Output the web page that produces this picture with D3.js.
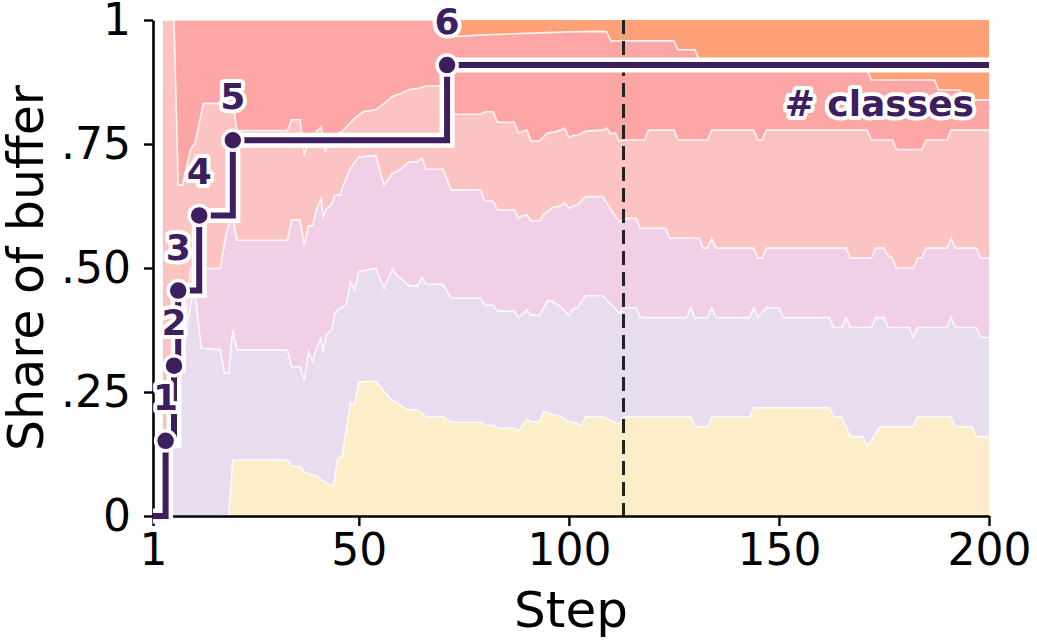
<!DOCTYPE html>
<html>
<head>
<meta charset="utf-8">
<script src="https://cdn.jsdelivr.net/npm/d3@7"></script>
<style>
    body { margin: 0; background: #fff; }
    svg { display: block; font-family: "DejaVu Sans", sans-serif; }
</style>
</head>
<body>
<div id="chart"></div>
<script>
// Axis ticks.
var xTicks = [1, 50, 100, 150, 200];
var yTicks = [0, 0.25, 0.5, 0.75, 1];
var yTickLabels = ['0', '.25', '.50', '.75', '1'];

// Cumulative share of buffer at the top of each class band, as [step, share].
var topYellow = [[3.5,0],[19,0],[20,0.113],[33,0.113],[34,0.1],[36,0.1],[37,0.089],[38,0.085],[40,0.08],[41,0.073],[43,0.063],[44,0.063],[45,0.117],[46,0.119],[48,0.228],[49,0.224],[50,0.27],[54,0.272],[56,0.251],[58,0.232],[59,0.229],[60,0.222],[62,0.214],[64,0.214],[66,0.2],[70,0.2],[72,0.189],[79,0.189],[80,0.183],[82,0.183],[83,0.177],[87,0.177],[88,0.171],[90,0.196],[91,0.19],[93,0.19],[94,0.212],[95,0.207],[96,0.205],[98,0.2],[100,0.19],[102,0.187],[103,0.182],[104,0.2],[108,0.2],[112,0.185],[113,0.2],[129,0.2],[130,0.18],[133,0.18],[134,0.2],[143,0.2],[144,0.218],[162,0.218],[163,0.2],[165,0.2],[166,0.18],[167,0.16],[170,0.16],[171,0.14],[174,0.18],[182,0.18],[183,0.2],[191,0.2],[192,0.18],[196,0.18],[197,0.16],[200,0.16]];
var topLavender = [[3.5,0],[5,0],[6,0.333],[8,0.333],[10.5,0.452],[11,0.452],[12.5,0.338],[17,0.335],[18,0.288],[19,0.288],[20,0.375],[21,0.335],[33,0.335],[34,0.301],[36,0.301],[37,0.274],[38,0.331],[39,0.311],[40,0.34],[41,0.358],[41.5,0.331],[42.3,0.365],[43.5,0.375],[44.3,0.409],[45.5,0.419],[47,0.425],[48,0.472],[49,0.455],[50,0.493],[54,0.499],[56,0.459],[58,0.498],[59,0.485],[60,0.479],[62,0.464],[64,0.464],[65,0.481],[66,0.467],[70,0.467],[72,0.439],[79,0.439],[80,0.425],[82,0.425],[83,0.413],[87,0.413],[88,0.4],[90,0.415],[91,0.405],[93,0.405],[95,0.435],[96,0.433],[98,0.422],[100,0.405],[101,0.418],[102,0.42],[104,0.444],[108,0.444],[112,0.409],[113,0.42],[116,0.42],[117,0.4],[128,0.4],[129,0.42],[130,0.4],[133,0.4],[134,0.42],[135,0.4],[143,0.4],[144,0.42],[145,0.4],[147,0.42],[150,0.42],[151,0.4],[162,0.4],[163,0.38],[165,0.38],[166,0.4],[167,0.38],[172,0.38],[173,0.4],[175,0.4],[176,0.38],[181,0.38],[182,0.36],[183,0.38],[190,0.38],[191,0.4],[192,0.38],[197,0.38],[198,0.36],[200,0.36]];
var topLilac = [[3.5,0],[5,0],[6,0.333],[8,0.333],[10,0.499],[17,0.499],[18.5,0.573],[19.5,0.6],[20,0.6],[21,0.556],[33,0.556],[34,0.597],[36,0.597],[37,0.546],[38,0.585],[39,0.585],[40,0.62],[41,0.64],[41.5,0.604],[42.3,0.62],[43.5,0.627],[44.3,0.647],[45.5,0.647],[46.3,0.667],[48,0.701],[50,0.724],[54,0.727],[56,0.667],[58,0.691],[59,0.694],[60,0.7],[62,0.714],[64,0.714],[65,0.722],[66,0.699],[70,0.699],[72,0.657],[79,0.657],[80,0.635],[82,0.635],[83,0.617],[87,0.617],[88,0.6],[89,0.605],[90,0.607],[91,0.595],[93,0.595],[94,0.608],[95,0.614],[96,0.622],[98,0.625],[99,0.632],[100,0.62],[101,0.625],[102,0.627],[104,0.644],[108,0.644],[112,0.592],[113,0.6],[116,0.6],[117,0.58],[123,0.58],[124,0.56],[131,0.56],[132,0.54],[133,0.54],[134,0.56],[135,0.54],[144,0.54],[145,0.52],[146,0.52],[147,0.54],[166,0.54],[167,0.52],[172,0.52],[173,0.54],[175,0.54],[176,0.525],[177,0.52],[178,0.5],[182,0.5],[183,0.52],[184,0.52],[185,0.54],[190,0.54],[191,0.56],[192,0.54],[197,0.54],[198,0.52],[200,0.52]];
var topPink = [[3.5,1],[6,1],[7,0.667],[8,0.667],[10,0.74],[11,0.751],[13,0.832],[20,0.832],[21,0.777],[33,0.777],[34,0.799],[36,0.799],[37,0.727],[38,0.758],[41,0.785],[42,0.734],[43,0.765],[46,0.775],[49,0.802],[51,0.815],[54,0.819],[56,0.832],[58,0.846],[60,0.852],[62,0.86],[64,0.862],[66,0.867],[70,0.867],[72,0.81],[79,0.81],[80,0.815],[82,0.815],[83,0.794],[87,0.794],[88,0.772],[89,0.775],[90,0.778],[91,0.756],[93,0.756],[94,0.765],[95,0.772],[97,0.775],[98,0.778],[99,0.782],[100,0.763],[101,0.767],[102,0.767],[104,0.776],[108,0.778],[109,0.782],[110,0.77],[111,0.773],[112,0.755],[113,0.758],[118,0.758],[119,0.778],[125,0.778],[126,0.758],[133,0.758],[134,0.778],[144,0.778],[145,0.758],[146,0.758],[147,0.778],[171,0.778],[172,0.758],[177,0.758],[178,0.739],[184,0.739],[185,0.758],[190,0.758],[191,0.778],[200,0.778]];
var topSalmon = [[3.5,1],[70,1],[71,0.966],[80,0.97],[90,0.973],[100,0.976],[108,0.977],[109,0.976],[110,0.958],[125,0.958],[126,0.94],[130,0.94],[131,0.92],[170,0.92],[171,0.9],[172,0.879],[187,0.879],[188,0.859],[193,0.859],[194,0.839],[200,0.839]];
var topOrange = [[3.5,1],[200,1]];

var bandTops = [topYellow, topLavender, topLilac, topPink, topSalmon, topOrange];
var bandColors = ['#fdedc9', '#e7ddef', '#f1d0e7', '#fcc3c3', '#fea6a6', '#fea178'];

// Number of classes seen so far (drawn on a 0..6.6 scale).
var classSteps = [1, 4, 6, 7, 12, 20, 71, 200];
var classCounts = [0, 1, 2, 3, 4, 5, 6, 6];
var countMax = 6.6;

// Step where the buffer is full.
var markerStep = 113;

var width = 1037, height = 641;
var dark = '#3d1e5e';

var svg = d3.select('#chart').append('svg')
    .attr('width', width)
    .attr('height', height);

var x = d3.scaleLinear().domain([1, 200]).range([153, 989]);
var y = d3.scaleLinear().domain([0, 1]).range([516, 20]);
var yCount = d3.scaleLinear().domain([0, countMax]).range([516, 20]);

// Bands: each one filled from 0 to its cumulative top, painted top class first.
var area = d3.area()
    .x(function(d) { return x(d[0]); })
    .y0(y(0))
    .y1(function(d) { return y(d[1]); });

var line = d3.line()
    .x(function(d) { return x(d[0]); })
    .y(function(d) { return y(d[1]); });

for (var i = bandTops.length - 1; i >= 0; i--) {
    svg.append('path')
        .attr('d', area(bandTops[i]))
        .attr('fill', bandColors[i]);
}

// White edges between bands.
bandTops.slice(0, 5).forEach(function(top) {
    svg.append('path')
        .attr('d', line(top))
        .attr('fill', 'none')
        .attr('stroke', '#fff')
        .attr('stroke-opacity', 0.85)
        .attr('stroke-width', 1.6);
});

// Dashed marker.
svg.append('line')
    .attr('x1', x(markerStep)).attr('x2', x(markerStep))
    .attr('y1', y(1)).attr('y2', y(0))
    .attr('stroke', '#222')
    .attr('stroke-width', 3)
    .attr('stroke-dasharray', '14,7');

// Axes.
var xAxis = svg.append('g')
    .attr('transform', 'translate(0,' + y(0) + ')')
    .call(d3.axisBottom(x).tickValues(xTicks).tickSize(10).tickSizeOuter(0).tickPadding(8));

var yAxis = svg.append('g')
    .attr('transform', 'translate(' + x(1) + ',0)')
    .call(d3.axisLeft(y).tickValues(yTicks).tickSize(9).tickSizeOuter(0).tickPadding(13)
        .tickFormat(function(d, i) { return yTickLabels[i]; }));

[xAxis, yAxis].forEach(function(g) {
    g.select('.domain').attr('stroke', '#000').attr('stroke-width', 2.6);
    g.selectAll('.tick line').attr('stroke', '#000').attr('stroke-width', 2.4);
    g.selectAll('.tick text')
        .attr('fill', '#000')
        .style('font-family', '"DejaVu Sans", sans-serif')
        .style('font-size', '44px');
});

svg.append('text')
    .attr('x', (x(1) + x(200)) / 2)
    .attr('y', 627)
    .attr('text-anchor', 'middle')
    .style('font-size', '50px')
    .text('Step');

svg.append('text')
    .attr('transform', 'translate(43,' + (y(0) + y(1)) / 2 + ') rotate(-90)')
    .attr('text-anchor', 'middle')
    .style('font-size', '49px')
    .text('Share of buffer');

// Step line for the number of classes.
var stepLine = d3.line()
    .curve(d3.curveStepAfter)
    .x(function(d, i) { return x(classSteps[i]); })
    .y(function(d) { return yCount(d); });

svg.append('path')
    .attr('d', stepLine(classCounts))
    .attr('fill', 'none')
    .attr('stroke', '#fff')
    .attr('stroke-width', 15);

svg.append('path')
    .attr('d', stepLine(classCounts))
    .attr('fill', 'none')
    .attr('stroke', dark)
    .attr('stroke-width', 6);

var marks = classCounts.slice(1, 7);

svg.selectAll('.count-dot')
    .data(marks)
    .enter()
    .append('circle')
    .attr('class', 'count-dot')
    .attr('cx', function(d, i) { return x(classSteps[i + 1]); })
    .attr('cy', function(d) { return yCount(d); })
    .attr('r', 10)
    .attr('fill', dark)
    .attr('stroke', '#fff')
    .attr('stroke-width', 3.5);

svg.selectAll('.count-label')
    .data(marks)
    .enter()
    .append('text')
    .attr('class', 'count-label')
    .attr('x', function(d, i) { return x(classSteps[i + 1]); })
    .attr('y', function(d) { return yCount(d) - 44; })
    .attr('dy', '0.36em')
    .attr('text-anchor', 'middle')
    .style('font-size', '36px')
    .style('font-weight', 'bold')
    .style('paint-order', 'stroke')
    .attr('fill', dark)
    .attr('stroke', '#fff')
    .attr('stroke-width', 8)
    .attr('stroke-linejoin', 'round')
    .text(function(d) { return d; });

svg.append('text')
    .attr('x', 974)
    .attr('y', 116)
    .attr('text-anchor', 'end')
    .style('font-size', '36px')
    .style('font-weight', 'bold')
    .style('paint-order', 'stroke')
    .attr('fill', dark)
    .attr('stroke', '#fff')
    .attr('stroke-width', 8)
    .attr('stroke-linejoin', 'round')
    .text('# classes');
</script>
</body>
</html>
